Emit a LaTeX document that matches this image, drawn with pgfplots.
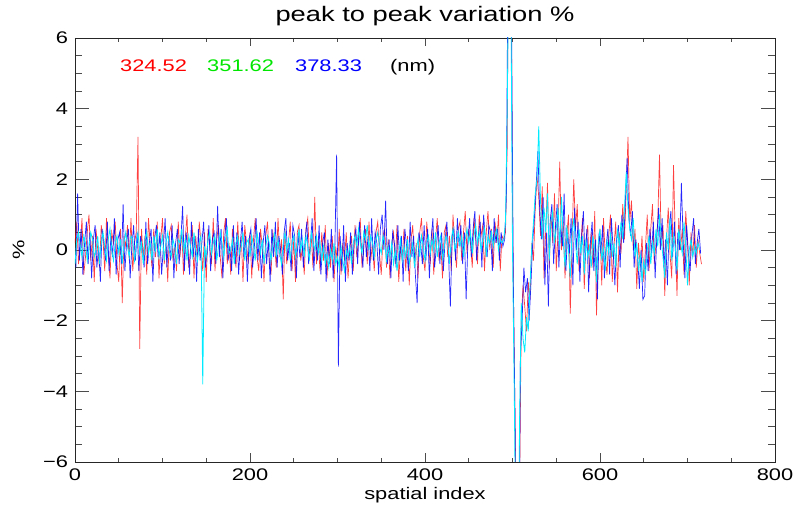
\documentclass[border=0pt]{standalone}
\usepackage{pgfplots}
\pgfplotsset{compat=1.18}
\usepackage{pgfplotstable}
\usepackage{fontspec}
\setmainfont{Liberation Sans}[FakeStretch=1.3]

% red, before the spike: x = 2*i
\pgfplotstableread[row sep=\\]{
y\\
0.2\\ 0.8\\ -0.4\\ 0.1\\ 0.9\\ -0.7\\ -0.2\\ 0.5\\ 1.0\\ -0.3\\
0.4\\ -0.9\\ 0.6\\ 0.0\\ -0.5\\ 0.7\\ 0.3\\ -0.6\\ 0.9\\ -0.1\\
-0.8\\ 0.5\\ 0.2\\ 0.8\\ -0.4\\ -0.9\\ 0.6\\ -1.5\\ 0.4\\ 0.1\\
0.7\\ -0.3\\ 0.9\\ -0.6\\ 0.2\\ 0.5\\ 3.2\\ -2.8\\ 0.6\\ -0.2\\
0.4\\ -0.7\\ 0.9\\ 0.1\\ -0.5\\ 0.6\\ -0.2\\ 0.8\\ -0.8\\ 0.3\\
0.9\\ -0.4\\ 0.2\\ -0.9\\ 0.5\\ 0.7\\ -0.3\\ 0.1\\ -0.6\\ 0.8\\
-0.2\\ 0.6\\ -0.7\\ 0.3\\ 1.0\\ -0.5\\ 0.0\\ 0.7\\ -0.8\\ 0.4\\
-0.3\\ 0.8\\ 0.2\\ -0.6\\ 0.5\\ -0.9\\ 0.6\\ 0.1\\ -0.4\\ 0.9\\
-0.6\\ 0.3\\ 0.7\\ -0.2\\ -0.8\\ 0.5\\ 0.9\\ -0.4\\ 0.2\\ -0.7\\
0.6\\ 0.0\\ -0.5\\ 0.8\\ -0.3\\ 0.4\\ -0.9\\ 0.7\\ 0.2\\ -0.4\\
0.5\\ -0.8\\ 0.3\\ 0.9\\ -0.2\\ -0.6\\ 0.6\\ 0.1\\ -0.9\\ 0.4\\
0.8\\ -0.3\\ -0.7\\ 0.5\\ 0.2\\ -0.5\\ 0.9\\ -0.2\\ 0.3\\ -1.4\\
0.6\\ -0.4\\ 0.2\\ 0.8\\ -0.6\\ 0.3\\ -0.9\\ 0.5\\ 0.7\\ -0.3\\
0.1\\ -0.7\\ 0.6\\ 0.9\\ -0.2\\ 0.4\\ -0.5\\ 1.5\\ -0.4\\ 0.3\\
-0.6\\ 0.5\\ -0.3\\ 0.7\\ -0.8\\ 0.2\\ -0.5\\ 0.4\\ -0.9\\ 0.1\\
-0.4\\ 0.6\\ -0.7\\ 0.2\\ -0.3\\ 0.5\\ -0.8\\ 0.0\\ 0.4\\ -0.6\\
0.7\\ -0.2\\ 0.3\\ 0.9\\ -0.5\\ 0.1\\ 0.6\\ -0.4\\ 0.8\\ -0.3\\
0.2\\ -0.6\\ 0.5\\ 0.8\\ -0.1\\ -0.7\\ 0.4\\ 0.6\\ -0.5\\ 0.3\\
-0.8\\ 0.2\\ 0.5\\ -0.4\\ 0.7\\ -0.9\\ 0.1\\ -0.3\\ 0.6\\ -0.6\\
0.4\\ -1.0\\ 0.3\\ 0.7\\ -0.5\\ 0.2\\ -0.8\\ 0.5\\ 0.9\\ -0.2\\
-0.6\\ 0.8\\ 0.1\\ -0.4\\ 0.6\\ -0.7\\ 0.3\\ 0.9\\ -0.3\\ 0.2\\
-0.8\\ 0.5\\ 0.7\\ -0.2\\ 0.4\\ -0.6\\ 1.0\\ 0.1\\ -0.5\\ 0.6\\
0.8\\ -0.3\\ 0.5\\ 1.1\\ -0.1\\ 0.6\\ 0.2\\ -0.5\\ 0.9\\ 0.3\\
-0.4\\ 1.0\\ 0.4\\ 0.7\\ -0.6\\ 0.5\\ 1.1\\ 0.0\\ 0.6\\ -0.5\\
0.8\\ 0.2\\ 1.0\\ -0.6\\ 0.4\\ 0.3\\
}\tabRa

% red, from the spike on: x = 490 + 2*i
\pgfplotstableread[row sep=\\]{
y\\
0.3\\ 0.5\\ 3\\ 12\\ 10\\ 1\\ -3\\ -7\\ -12\\ -7\\
-2.0\\ -1.0\\ -1.6\\ -2.3\\ -0.9\\ -1.4\\ 0.2\\ -0.3\\ 1.2\\ 2.1\\
1.5\\ 0.4\\ 1.8\\ -0.8\\ 0.6\\ 1.9\\ -0.5\\ 1.0\\ 0.2\\ 1.6\\
-0.6\\ 0.5\\ 2.5\\ 0.0\\ 0.8\\ -0.8\\ 0.4\\ 1.0\\ -1.8\\ 0.2\\
2.0\\ 0.6\\ 1.3\\ -0.6\\ 0.1\\ 0.9\\ -1.1\\ 0.3\\ 0.7\\ -0.8\\
0.5\\ -0.5\\ 1.1\\ -1.85\\ 0.0\\ 0.6\\ -1.0\\ 0.9\\ -0.2\\ -0.7\\
0.4\\ 1.0\\ -0.9\\ 0.1\\ 0.8\\ -1.2\\ 0.5\\ -0.1\\ 1.3\\ 0.3\\
1.7\\ 3.2\\ 0.8\\ 1.4\\ 0.0\\ 0.6\\ -1.1\\ 0.2\\ -0.5\\ 0.4\\
-0.9\\ 0.1\\ 1.0\\ -0.6\\ 0.6\\ 1.3\\ -0.4\\ 0.2\\ 0.8\\ 2.7\\
0.1\\ 0.7\\ -1.3\\ 0.3\\ 1.2\\ -0.1\\ -0.8\\ 2.4\\ 0.4\\ -1.3\\
0.9\\ 0.0\\ 0.6\\ -0.7\\ 1.1\\ 0.2\\ -1.0\\ 0.5\\ -0.2\\ 0.7\\
-0.5\\ 0.3\\ -0.1\\ -0.4\\
}\tabRb

% blue, before the spike: x = 2*i + 1
\pgfplotstableread[row sep=\\]{
y\\
-0.5\\ 1.6\\ -0.3\\ 0.6\\ -0.7\\ 0.2\\ 0.8\\ -0.4\\ 0.5\\ -0.8\\
0.3\\ 0.7\\ -0.5\\ 0.1\\ -0.9\\ 0.6\\ 0.2\\ -0.3\\ 0.8\\ -0.6\\
0.4\\ -0.2\\ 0.9\\ -0.7\\ 0.3\\ 0.5\\ -0.4\\ 1.3\\ -0.6\\ 0.2\\
0.6\\ -0.8\\ 0.1\\ 0.7\\ -0.3\\ 0.5\\ -0.6\\ 0.4\\ 0.0\\ -0.5\\
0.8\\ -0.4\\ 0.2\\ 0.6\\ -0.9\\ 0.3\\ 0.7\\ -0.2\\ 0.5\\ -0.7\\
0.1\\ 0.9\\ -0.5\\ 0.4\\ -0.3\\ 0.7\\ -0.8\\ 0.2\\ 0.6\\ -0.4\\
0.3\\ 1.25\\ -0.6\\ 0.5\\ 0.0\\ -0.7\\ 0.8\\ -0.2\\ 0.4\\ -0.9\\
0.6\\ -0.3\\ 0.2\\ 0.8\\ -0.5\\ -0.1\\ 0.7\\ -0.6\\ 0.3\\ 0.5\\
-0.4\\ 1.25\\ -0.2\\ 0.6\\ -0.8\\ 0.3\\ 0.9\\ -0.3\\ 0.1\\ -0.6\\
0.7\\ -0.4\\ 0.5\\ -0.7\\ 0.2\\ 0.8\\ -0.2\\ 0.4\\ -0.9\\ 0.3\\
0.6\\ -0.5\\ 0.1\\ 0.9\\ -0.3\\ 0.5\\ -0.8\\ 0.2\\ 0.7\\ -0.4\\
0.3\\ -0.9\\ 0.6\\ -0.2\\ 0.8\\ -0.5\\ 0.4\\ 0.0\\ -0.7\\ 0.5\\
0.9\\ -0.3\\ 0.2\\ -0.6\\ 0.7\\ 0.4\\ -0.8\\ 0.5\\ -0.2\\ 0.6\\
-0.5\\ 0.3\\ 0.8\\ -0.4\\ 0.1\\ 0.9\\ -0.6\\ 0.4\\ -0.3\\ 0.7\\
-0.7\\ 0.2\\ 0.5\\ -0.9\\ 0.3\\ -0.4\\ 0.6\\ -0.8\\ 0.1\\ 2.7\\
-3.3\\ 0.4\\ -0.6\\ 0.7\\ -0.9\\ 0.2\\ -0.3\\ 0.5\\ -0.7\\ 0.3\\
0.6\\ -0.4\\ 0.8\\ 0.1\\ -0.5\\ 0.7\\ -0.2\\ 0.4\\ -0.6\\ 0.9\\
-0.3\\ 0.5\\ 0.2\\ -0.7\\ 0.6\\ 1.0\\ 0.0\\ 1.4\\ -0.4\\ 0.3\\
-0.8\\ 0.5\\ 0.2\\ -0.5\\ 0.7\\ -0.3\\ 0.4\\ -0.9\\ 0.6\\ 0.1\\
-0.6\\ 0.8\\ -0.2\\ 0.4\\ -0.7\\ -1.5\\ 0.5\\ 0.2\\ -0.4\\ 0.7\\
-0.3\\ 0.6\\ -0.8\\ 0.3\\ 0.9\\ -0.5\\ 0.1\\ 0.7\\ -0.4\\ 0.5\\
-0.6\\ 0.3\\ 0.8\\ -0.2\\ -1.6\\ 0.4\\ 0.6\\ -0.3\\ 0.9\\ 0.1\\
0.7\\ -0.4\\ 0.5\\ -1.4\\ 0.2\\ 0.9\\ -0.2\\ 0.6\\ 1.1\\ -0.3\\
0.4\\ 0.8\\ -0.5\\ 1.0\\ 0.3\\ -0.2\\ 0.7\\ 0.5\\ -0.6\\ 0.9\\
0.2\\ 0.6\\ -0.3\\ 0.5\\ 0.1\\ 0.3\\
}\tabBa

% blue, from the spike on: x = 491 + 2*i
\pgfplotstableread[row sep=\\]{
y\\
0.3\\ 1.5\\ 9\\ 14\\ 6\\ -1\\ -5\\ -12\\ -11\\ -3\\
-2.0\\ -0.5\\ -1.2\\ -0.8\\ -2.0\\ -1.0\\ 0.2\\ 0.9\\ 1.8\\ 2.8\\
1.2\\ 0.3\\ 1.5\\ -1.0\\ 0.5\\ -1.6\\ 0.8\\ 1.3\\ -0.4\\ 0.6\\
1.3\\ -0.5\\ 0.7\\ 0.1\\ 1.6\\ -0.6\\ 0.5\\ -0.1\\ 0.9\\ -1.0\\
1.2\\ 0.0\\ 0.8\\ -0.9\\ 0.4\\ 1.1\\ -0.3\\ 0.6\\ -1.2\\ 0.2\\
0.8\\ -0.6\\ 0.3\\ -1.4\\ 0.5\\ -0.1\\ 0.7\\ -0.8\\ 0.1\\ 0.6\\
-0.7\\ 0.9\\ 0.0\\ -1.0\\ 0.3\\ 0.7\\ -0.5\\ 1.0\\ 0.2\\ 1.4\\
2.6\\ 0.9\\ 0.4\\ 1.1\\ -0.5\\ 0.3\\ -0.2\\ -1.1\\ 0.0\\ -1.4\\
-1.3\\ 0.2\\ -0.6\\ 0.6\\ -0.1\\ 0.8\\ -0.8\\ 0.4\\ 1.2\\ 0.0\\
0.9\\ -0.5\\ 0.3\\ -1.0\\ 0.6\\ 1.1\\ -0.2\\ 0.8\\ -0.7\\ 0.5\\
0.0\\ 1.9\\ 0.3\\ -0.8\\ 0.7\\ -0.1\\ -0.6\\ 0.4\\ 0.9\\ -0.4\\
0.2\\ 0.6\\ -0.1\\
}\tabBb

% cyan, before the spike: x = 2*i
\pgfplotstableread[row sep=\\]{
y\\
-0.4\\ 0.3\\ 0.5\\ 0.1\\ -0.2\\ 0.4\\ 0.2\\ -0.3\\ 0.1\\ 0.5\\
0.3\\ -0.2\\ 0.0\\ 0.4\\ -0.4\\ 0.2\\ 0.5\\ 0.1\\ -0.3\\ 0.3\\
0.6\\ 0.0\\ -0.3\\ 0.2\\ 0.4\\ -0.1\\ 0.3\\ -0.4\\ 0.2\\ 0.5\\
0.1\\ -0.2\\ 0.4\\ 0.3\\ -0.3\\ 0.1\\ 0.5\\ -0.1\\ 0.2\\ -0.4\\
0.3\\ 0.5\\ -0.1\\ 0.2\\ -0.3\\ 0.4\\ 0.0\\ 0.6\\ -0.2\\ 0.1\\
0.4\\ -0.3\\ 0.2\\ 0.5\\ 0.0\\ -0.2\\ 0.3\\ 0.1\\ -0.4\\ 0.3\\
0.2\\ 0.6\\ -0.1\\ 0.3\\ -0.3\\ 0.4\\ 0.1\\ -0.2\\ 0.5\\ 0.0\\
-0.3\\ 0.2\\ 0.4\\ -3.8\\ 0.1\\ -0.2\\ 0.3\\ 0.5\\ -0.1\\ 0.2\\
0.4\\ -0.3\\ 0.1\\ 0.5\\ 0.2\\ -0.2\\ 0.3\\ 0.6\\ -0.1\\ 0.0\\
0.3\\ -0.4\\ 0.2\\ 0.4\\ -0.1\\ 0.1\\ 0.5\\ -0.3\\ 0.2\\ 0.3\\
-0.2\\ 0.4\\ 0.1\\ -0.3\\ 0.5\\ 0.2\\ -0.1\\ 0.3\\ -0.4\\ 0.1\\
0.4\\ 0.2\\ -0.3\\ 0.1\\ 0.5\\ -0.2\\ 0.3\\ -0.1\\ -0.4\\ 0.2\\
0.5\\ 0.0\\ 0.3\\ -0.3\\ 0.2\\ 0.4\\ -0.2\\ 0.1\\ 0.6\\ 0.0\\
0.3\\ -0.2\\ 0.4\\ 0.1\\ -0.3\\ 0.5\\ 0.2\\ 0.0\\ 0.4\\ -0.1\\
0.2\\ -0.3\\ 0.1\\ -0.4\\ -0.1\\ -0.5\\ 0.0\\ -0.3\\ 0.2\\ -0.4\\
-0.2\\ -0.5\\ 0.1\\ -0.3\\ -0.6\\ 0.0\\ -0.2\\ 0.1\\ -0.4\\ 0.2\\
0.4\\ 0.1\\ 0.6\\ 0.2\\ -0.1\\ 0.5\\ 0.3\\ 0.7\\ 0.0\\ 0.4\\
0.2\\ -0.2\\ 0.3\\ 0.5\\ 0.1\\ -0.1\\ 0.4\\ 0.2\\ -0.3\\ 0.1\\
-0.2\\ 0.2\\ -0.4\\ 0.0\\ -0.6\\ -0.1\\ 0.3\\ -0.3\\ 0.1\\ -0.2\\
0.3\\ -0.4\\ -0.1\\ 0.2\\ -0.5\\ 0.0\\ 0.3\\ -0.2\\ 0.4\\ 0.1\\
-0.3\\ 0.2\\ 0.4\\ -0.1\\ 0.3\\ 0.0\\ 0.5\\ -0.2\\ 0.2\\ 0.4\\
-0.3\\ 0.1\\ 0.4\\ 0.2\\ -0.4\\ 0.3\\ 0.6\\ 0.0\\ 0.2\\ 0.5\\
0.1\\ 0.4\\ -0.2\\ 0.3\\ 0.6\\ 0.2\\ 0.5\\ -0.1\\ 0.4\\ 0.7\\
0.2\\ 0.5\\ 0.0\\ 0.3\\ 0.6\\ -0.2\\ 0.4\\ 0.2\\ 0.5\\ 0.1\\
0.4\\ 0.6\\ 0.0\\ 0.3\\ 0.2\\ 0.3\\
}\tabCa

% cyan, from the spike on: x = 490 + 2*i
\pgfplotstableread[row sep=\\]{
y\\
0.3\\ 0.8\\ 4\\ 9\\ 8\\ 0\\ -4\\ -9\\ -11\\ -5\\
-1.5\\ -2.5\\ -2.9\\ -1.9\\ -2.3\\ -1.0\\ 0.1\\ 0.8\\ 1.6\\ 2.0\\
3.5\\ 1.4\\ 0.3\\ 1.2\\ 0.5\\ 1.6\\ -0.3\\ 0.8\\ 1.1\\ 0.2\\
0.6\\ 1.2\\ 0.1\\ 1.5\\ 0.3\\ -0.5\\ 0.7\\ 0.0\\ -0.8\\ 0.5\\
0.9\\ 0.2\\ -0.4\\ 0.6\\ -0.1\\ 0.4\\ -0.7\\ 0.3\\ -0.2\\ 0.1\\
-0.5\\ 0.4\\ 0.0\\ -0.9\\ 0.2\\ 0.6\\ -0.3\\ 0.1\\ -0.6\\ 0.3\\
-0.1\\ 0.5\\ -0.2\\ 0.2\\ -0.5\\ 0.6\\ 0.1\\ 0.8\\ 0.3\\ 1.2\\
2.2\\ 1.2\\ 0.6\\ 0.3\\ 0.9\\ -0.2\\ 0.2\\ -0.6\\ -0.1\\ -0.9\\
-0.3\\ -0.7\\ 0.0\\ 0.4\\ -0.4\\ 0.2\\ -0.1\\ 0.6\\ 0.1\\ 1.0\\
0.3\\ -0.2\\ -0.8\\ 0.5\\ 0.0\\ 0.9\\ -0.3\\ 0.4\\ 0.1\\ -0.6\\
0.6\\ 0.2\\ -0.1\\ 0.8\\ 0.1\\ -1.0\\ 0.0\\ 0.3\\ -0.2\\ 0.1\\
-0.1\\ 0.2\\ 0.0\\
}\tabCb

\definecolor{idlred}{RGB}{255,0,0}
\definecolor{idlgreen}{RGB}{0,230,0}
\definecolor{idlblue}{RGB}{0,0,255}
\definecolor{idlcyan}{RGB}{0,235,255}

\begin{document}
\begin{tikzpicture}
\begin{axis}[
  scale only axis,
  width=700pt, height=424pt,
  xmin=0, xmax=800, ymin=-6, ymax=6,
  xtick={0,200,400,600,800},
  xticklabels={0,200,400,600,800},
  ytick={-6,-4,-2,0,2,4,6},
  yticklabels={−6,−4,−2,0,2,4,6},
  minor x tick num=3, minor y tick num=3,
  tick align=inside,
  x tick style={/pgfplots/major tick length=8.5pt, /pgfplots/minor tick length=4.2pt},
  y tick style={/pgfplots/major tick length=14pt, /pgfplots/minor tick length=7pt},
  axis line style={black!85, line width=0.8pt},
  tick style={black!70, line width=0.8pt},
  tick label style={font=\fontsize{16.8}{16.8}\selectfont},
  xticklabel style={yshift=-3pt},
  yticklabel style={xshift=-3.5pt},
  title={peak to peak variation \%},
  title style={font=\fontsize{21}{21}\selectfont, at={(axis description cs:0.5,1)}, anchor=base, yshift=10pt},
  xlabel={spatial index},
  xlabel style={font=\fontsize{16.8}{16.8}\selectfont, at={(axis description cs:0.5,0)}, anchor=base, yshift=-38pt},
  ylabel={\%},
  ylabel style={font=\fontsize{16.8}{16.8}\selectfont, at={(axis description cs:-0.0807,0.5)}, anchor=center},
]
\addplot[idlred, opacity=0.75, line width=0.7pt] table[x expr=\coordindex*2, y=y] {\tabRa};
\addplot[idlred, opacity=0.75, line width=0.7pt] table[x expr=490+\coordindex*2, y=y] {\tabRb};
\addplot[idlblue, opacity=0.85, line width=0.7pt] table[x expr=\coordindex*2+1, y=y] {\tabBa};
\addplot[idlblue, opacity=0.85, line width=0.7pt] table[x expr=491+\coordindex*2, y=y] {\tabBb};
\addplot[idlcyan, line width=0.8pt] table[x expr=\coordindex*2, y=y] {\tabCa};
\addplot[idlcyan, line width=0.8pt] table[x expr=490+\coordindex*2, y=y] {\tabCb};
\node[anchor=base west, inner sep=0pt, text=idlred, font=\fontsize{16.8}{16.8}\selectfont] at (axis cs:51.4,5.04) {324.52};
\node[anchor=base west, inner sep=0pt, text=idlgreen, font=\fontsize{16.8}{16.8}\selectfont] at (axis cs:150.9,5.04) {351.62};
\node[anchor=base west, inner sep=0pt, text=idlblue, font=\fontsize{16.8}{16.8}\selectfont] at (axis cs:251.4,5.04) {378.33};
\node[anchor=base west, inner sep=0pt, text=black, font=\fontsize{16.8}{16.8}\selectfont] at (axis cs:360,5.04) {(nm)};
\end{axis}
\pgfresetboundingbox
\path (-75pt,-46pt) rectangle (722pt,462pt);
\end{tikzpicture}
\end{document}
